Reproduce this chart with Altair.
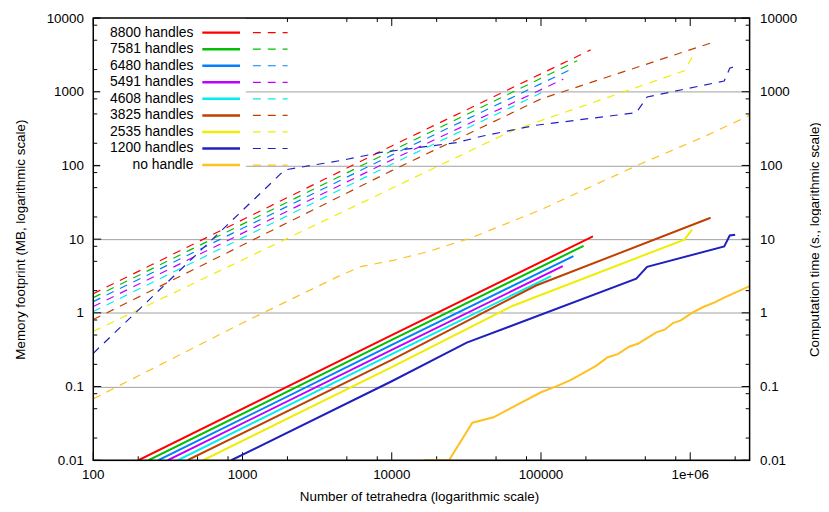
import altair as alt
import pandas as pd

# ---------------- data ----------------
series = ["8800 handles", "7581 handles", "6480 handles", "5491 handles",
          "4608 handles", "3825 handles", "2535 handles", "1200 handles", "no handle"]
colors = ["#ff0000", "#00c000", "#0080ff", "#c000ff", "#00eeee",
          "#c04000", "#eeee00", "#2020c0", "#ffc020"]

# computation time (s) -- solid lines, right axis
time_n_8800 = [201, 10000, 223000]
time_s_8800 = [0.01, 0.50, 10.9]
time_n_7581 = [235, 10000, 193000]
time_s_7581 = [0.01, 0.43, 8.1]
time_n_6480 = [273, 10000, 165000]
time_s_6480 = [0.01, 0.367, 5.9]
time_n_5491 = [316, 10000, 140000]
time_s_5491 = [0.01, 0.315, 4.3]
time_n_4608 = [369, 10000, 117000]
time_s_4608 = [0.01, 0.276, 3.15]
time_n_3825 = [428, 10000, 92700, 1370000]
time_s_3825 = [0.01, 0.23, 2.35, 19.5]
time_n_2535 = [546, 10000, 64900, 913000, 1030000]
time_s_2535 = [0.01, 0.183, 1.25, 9.85, 13.5]
time_n_1200 = [841, 10000, 31800, 435000, 514000, 1690000, 1840000, 2000000]
time_s_1200 = [0.01, 0.118, 0.394, 2.9, 4.2, 7.98, 11.2, 11.5]
time_n_none = [16400, 24200, 34700, 48000, 100000, 129000, 159000, 234000, 280000,
               327000, 392000, 446000, 592000, 674000, 767000, 865000, 1020000,
               1220000, 1460000, 1660000, 2500000]
time_s_none = [0.01, 0.01, 0.0323, 0.0383, 0.0836, 0.102, 0.123, 0.191, 0.25,
               0.275, 0.35, 0.38, 0.543, 0.59, 0.726, 0.79, 0.99,
               1.2, 1.39, 1.58, 2.3]

# memory footprint (MB) -- dashed lines, left axis
mem_n_8800 = [100, 10000, 215000]
mem_mb_8800 = [1.82, 184, 3700]
mem_n_7581 = [100, 10000, 175000]
mem_mb_7581 = [1.61, 158, 2640]
mem_n_6480 = [100, 10000, 165000]
mem_mb_6480 = [1.42, 138, 2090]
mem_n_5491 = [100, 10000, 141000]
mem_mb_5491 = [1.22, 119, 1480]
mem_n_4608 = [100, 10000, 108000]
mem_mb_4608 = [1.04, 104, 1036]
mem_n_3825 = [100, 10000, 100000, 1370000]
mem_mb_3825 = [0.81, 85, 800, 4580]
mem_n_2535 = [100, 64900, 913000, 1030000]
mem_mb_2535 = [0.56, 300, 1920, 2930]
mem_n_1200 = [100, 1920, 4690, 8430, 27200, 40800, 92700, 435000, 514000,
              1690000, 1840000, 2000000]
mem_mb_1200 = [0.283, 87, 118, 150, 204, 251, 351, 520, 850, 1400, 2090, 2200]
mem_n_none = [100, 1000, 4350, 6210, 10400, 17200, 33100, 100000, 450000, 1280000, 2500000]
mem_mb_none = [0.068, 0.73, 3.1, 4.24, 5.2, 6.7, 10.2, 25.1, 102, 253, 479]

x_ticks = [100, 1000, 10000, 100000, 1000000]
x_tick_labels = ["100", "1000", "10000", "100000", "1e+06"]
y_ticks = [0.01, 0.1, 1, 10, 100, 1000, 10000]
y_tick_labels = ["0.01", "0.1", "1", "10", "100", "1000", "10000"]
minor_mult = [2, 5, 8]
x_title = "Number of tetrahedra (logarithmic scale)"

# ---------------- tables ----------------
time_sets = [(time_n_8800, time_s_8800), (time_n_7581, time_s_7581), (time_n_6480, time_s_6480),
             (time_n_5491, time_s_5491), (time_n_4608, time_s_4608), (time_n_3825, time_s_3825),
             (time_n_2535, time_s_2535), (time_n_1200, time_s_1200), (time_n_none, time_s_none)]
mem_sets = [(mem_n_8800, mem_mb_8800), (mem_n_7581, mem_mb_7581), (mem_n_6480, mem_mb_6480),
            (mem_n_5491, mem_mb_5491), (mem_n_4608, mem_mb_4608), (mem_n_3825, mem_mb_3825),
            (mem_n_2535, mem_mb_2535), (mem_n_1200, mem_mb_1200), (mem_n_none, mem_mb_none)]

time_rows, mem_rows = [], []
for name, (ns, vs) in zip(series, time_sets):
    for i, (n, v) in enumerate(zip(ns, vs)):
        time_rows.append({"series": name, "n": n, "v": v, "i": i})
for name, (ns, vs) in zip(series, mem_sets):
    for i, (n, v) in enumerate(zip(ns, vs)):
        mem_rows.append({"series": name, "n": n, "v": v, "i": i})
time_df = pd.DataFrame(time_rows)
mem_df = pd.DataFrame(mem_rows)
legend_df = pd.DataFrame({"series": series})
xlab_df = pd.DataFrame({"v": x_ticks, "label": x_tick_labels})
xtitle_df = pd.DataFrame({"t": [x_title]})

x_major = pd.DataFrame({"v": x_ticks})
x_minor = pd.DataFrame({"v": [m * t for t in x_ticks for m in minor_mult if m * t <= 2.5e6]})
y_major = pd.DataFrame({"v": y_ticks})
y_minor = pd.DataFrame({"v": [m * t for t in y_ticks[:-1] for m in minor_mult]})

# ---------------- layout / style ----------------
W, H = 662, 446
FONT = "Liberation Sans"
FS = 13.5
MAJ, MIN = 8, 4

xscale = alt.Scale(type="log", domain=[100, 2.5e6], nice=False)
yscale = alt.Scale(type="log", domain=[0.01, 10000], nice=False)
cscale = alt.Scale(domain=series, range=colors)


def label_expr(vals, labels):
    e = "''"
    for v, l in zip(reversed(vals), reversed(labels)):
        e = f"datum.value == {v} ? '{l}' : ({e})"
    return e


x_axis = alt.Axis(orient="bottom", values=x_ticks, labels=False, title=None,
                  grid=True, gridColor="#a0a0a0", gridWidth=1, ticks=False, domain=False)
y_left_axis = alt.Axis(orient="left", values=y_ticks, labelExpr=label_expr(y_ticks, y_tick_labels),
                       grid=True, gridColor="#a0a0a0", gridWidth=1, ticks=False, domain=False,
                       labelPadding=10, labelFont=FONT, labelFontSize=FS, labelColor="black",
                       title="Memory footprint (MB, logarithmic scale)", titleFont=FONT,
                       titleFontSize=FS, titleFontWeight="normal", titleColor="black",
                       titleAngle=270, titleX=-73, titleY=H / 2, titleAlign="center",
                       titleBaseline="middle")
y_right_axis = alt.Axis(orient="right", values=y_ticks, labelExpr=label_expr(y_ticks, y_tick_labels),
                        grid=False, ticks=False, domain=False,
                        labelPadding=10, labelFont=FONT, labelFontSize=FS, labelColor="black",
                        title="Computation time (s., logarithmic scale)", titleFont=FONT,
                        titleFontSize=FS, titleFontWeight="normal", titleColor="black",
                        titleAngle=270, titleX=65, titleY=H / 2, titleAlign="center",
                        titleBaseline="middle")

# tick marks drawn inward on all four sides
tick_layers = []
for df, L in [(x_major, MAJ), (x_minor, MIN)]:
    tick_layers.append(alt.Chart(df).mark_rule(color="black", strokeWidth=1).encode(
        x=alt.X("v:Q", scale=xscale, axis=None), y=alt.value(H), y2=alt.value(H - L)))
    tick_layers.append(alt.Chart(df).mark_rule(color="black", strokeWidth=1).encode(
        x=alt.X("v:Q", scale=xscale, axis=None), y=alt.value(0), y2=alt.value(L)))
for df, L in [(y_major, MAJ), (y_minor, MIN)]:
    tick_layers.append(alt.Chart(df).mark_rule(color="black", strokeWidth=1).encode(
        y=alt.Y("v:Q", scale=yscale, axis=None), x=alt.value(0), x2=alt.value(L)))
    tick_layers.append(alt.Chart(df).mark_rule(color="black", strokeWidth=1).encode(
        y=alt.Y("v:Q", scale=yscale, axis=None), x=alt.value(W), x2=alt.value(W - L)))

# x tick labels and x title as text drawn through the x scale
x_labels = alt.Chart(xlab_df).mark_text(align="center", baseline="middle", font=FONT,
                                        fontSize=FS, color="black").encode(
    x=alt.X("v:Q", scale=xscale, axis=None), y=alt.value(H + 15), text="label:N")
x_title_mark = alt.Chart(xtitle_df).mark_text(align="center", baseline="middle", font=FONT,
                                              fontSize=FS, color="black").encode(
    x=alt.value(W / 2 - 2), y=alt.value(H + 37), text="t:N")

one = pd.DataFrame({"a": [0]})
key_box = alt.Chart(one).mark_rect(color="white").encode(
    x=alt.value(7), x2=alt.value(154), y=alt.value(0), y2=alt.value(156))

mem_lines = alt.Chart(mem_df).mark_line(strokeDash=[8, 7], strokeWidth=1.2, clip=True).encode(
    x=alt.X("n:Q", scale=xscale, axis=x_axis),
    y=alt.Y("v:Q", scale=yscale, axis=y_left_axis),
    color=alt.Color("series:N", scale=cscale, legend=None),
    order="i:Q")
time_lines = alt.Chart(time_df).mark_line(strokeWidth=2, clip=True).encode(
    x=alt.X("n:Q", scale=xscale, axis=None),
    y=alt.Y("v:Q", scale=yscale, axis=y_right_axis),
    color=alt.Color("series:N", scale=cscale, legend=None),
    order="i:Q")

ky = alt.Y("series:N", sort=series, axis=None,
           scale=alt.Scale(type="point", range=[14.7, 148.3], padding=0))
key_text = alt.Chart(legend_df).mark_text(align="right", baseline="middle", font=FONT,
                                          fontSize=14, color="black").encode(
    x=alt.value(101), y=ky, text="series:N")
key_solid = alt.Chart(legend_df).mark_rule(strokeWidth=2.5).encode(
    x=alt.value(110), x2=alt.value(148), y=ky,
    color=alt.Color("series:N", scale=cscale, legend=None))
key_dash = alt.Chart(legend_df).mark_rule(strokeWidth=1.2, strokeDash=[8, 7]).encode(
    x=alt.value(161), x2=alt.value(196), y=ky,
    color=alt.Color("series:N", scale=cscale, legend=None))

border = alt.Chart(one).mark_rect(filled=False, stroke="black", strokeWidth=1.5).encode(
    x=alt.value(0), x2=alt.value(W), y=alt.value(0), y2=alt.value(H))

chart = alt.layer(
    mem_lines, *tick_layers, key_box, time_lines, key_text, key_solid, key_dash, border,
    x_labels, x_title_mark
).resolve_scale(y="independent").properties(
    width=W, height=H,
    autosize=alt.AutoSizeParams(type="none"),
    padding={"left": 86, "top": 8, "right": 72, "bottom": 42},
    background="white",
).configure_view(strokeWidth=0)

chart.save("out.html", embed_options={"renderer": "svg", "actions": False})
